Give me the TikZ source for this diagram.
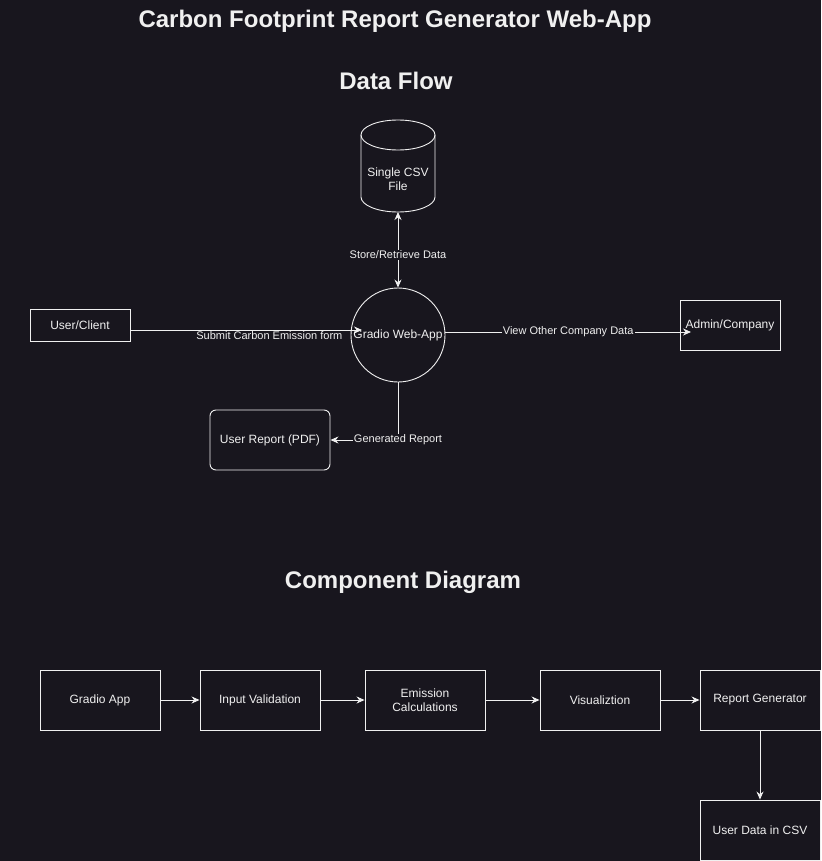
\documentclass[tikz,border=0pt]{standalone}
\usepackage{fontspec}
\setmainfont{Liberation Sans}
\usetikzlibrary{arrows.meta}
\definecolor{bgdark}{RGB}{24,22,30}
\definecolor{inkwhite}{RGB}{240,240,240}
\begin{document}
\begin{tikzpicture}[x=1pt, y=-1pt,
  every node/.style={text=inkwhite},
  box/.style={draw=inkwhite, line width=0.9pt, inner sep=0pt, align=center, font=\fontsize{12}{14}\selectfont},
  lbl/.style={fill=bgdark, inner sep=1pt, font=\fontsize{11}{13}\selectfont},
  head/.style={font=\bfseries\fontsize{24}{28}\selectfont},
  flow/.style={draw=inkwhite, line width=0.9pt, -{Stealth[length=8pt,width=7pt]}}]
\fill[bgdark] (0,0) rectangle (821,861);
\useasboundingbox (0,0) rectangle (821,861);
\node[head] (title) at (395,21) {Carbon Footprint Report Generator Web-App};
\node[head] (dftitle) at (396,81) {Data Flow};
% data flow
% csv store (cylinder)
\draw[draw=inkwhite, line width=0.9pt] (398,135) ellipse [x radius=37, y radius=15];
\draw[draw=inkwhite, line width=0.9pt] (361,135) -- (361,197) arc[start angle=180, end angle=0, x radius=37, y radius=15] -- (435,135);
\node[align=center, font=\fontsize{12}{14}\selectfont] (csv) at (398,179) {Single CSV\\File};
\coordinate (csvbot) at (398,212);
\node[box, circle, minimum size=94pt] (gradio) at (398,335) {Gradio Web-App};
\node[box, minimum width=100pt, minimum height=32pt] (user) at (80,325) {User/Client};
\node[box, minimum width=100pt, minimum height=50pt] (admin) at (730,325) {Admin/Company};
\node[box, rounded corners=6pt, minimum width=120pt, minimum height=60pt] (report) at (270,440) {User Report (PDF)};
\coordinate (subin) at (362,330);
\coordinate (adminin) at (691,332);
\draw[flow, {Stealth[length=8pt,width=7pt]}-{Stealth[length=8pt,width=7pt]}](csvbot) -- node[lbl, pos=0.57]{Store/Retrieve Data} (gradio.north);
\draw[flow](user.east |- subin) -- node[lbl, pos=0.6, yshift=-6pt]{Submit Carbon Emission form} (subin);
\draw[flow](gradio.east |- adminin) -- node[lbl, pos=0.5]{View Other Company Data} (adminin);
\draw[flow](gradio.south) |- node[lbl, pos=0.5]{Generated Report} (report.east);
% component diagram
\node[head] (cdtitle) at (403,582) {Component Diagram};
\node[box, minimum width=120pt, minimum height=60pt] (gapp) at (100,700) {Gradio App};
\node[box, minimum width=120pt, minimum height=60pt] (inval) at (260,700) {Input Validation};
\node[box, minimum width=120pt, minimum height=60pt] (emis) at (425,700) {Emission\\Calculations};
\node[box, minimum width=120pt, minimum height=60pt] (vis) at (600,700) {Visualiztion};
\node[box, minimum width=120pt, minimum height=60pt] (repgen) at (760,700) {Report Generator};
\node[box, minimum width=120pt, minimum height=60pt] (csvdata) at (760,830) {User Data in CSV};
\draw[flow](gapp) -- (inval);
\draw[flow](inval) -- (emis);
\draw[flow](emis) -- (vis);
\draw[flow](vis) -- (repgen);
\draw[flow](repgen) -- (csvdata);
\end{tikzpicture}
\end{document}
